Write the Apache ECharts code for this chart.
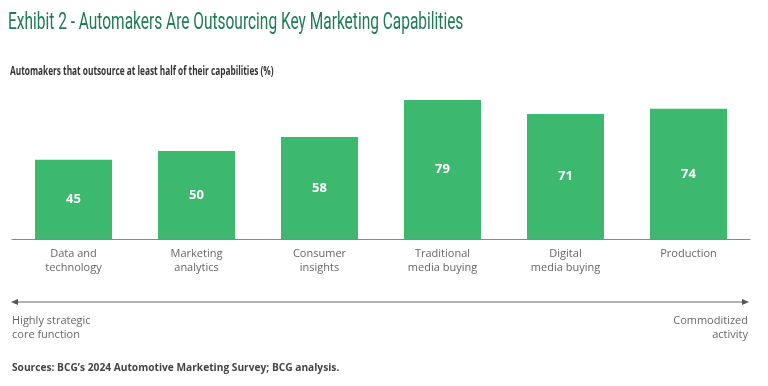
<!DOCTYPE html>
<html><head><meta charset="utf-8">
<script src="https://cdn.jsdelivr.net/npm/echarts@6/dist/echarts.min.js"></script>
<style>html,body{margin:0;padding:0;background:#fff}#c{width:768px;height:386px}</style>
</head><body><div id="c"></div>
<script>
const categories = ["Data and\ntechnology", "Marketing\nanalytics", "Consumer\ninsights", "Traditional\nmedia buying", "Digital\nmedia buying", "Production"];
const values = [45, 50, 58, 79, 71, 74];
const titleText = "Exhibit 2 - Automakers Are Outsourcing Key Marketing Capabilities";
const subtitleText = "Automakers that outsource at least half of their capabilities (%)";
const leftNote = "Highly strategic\ncore function";
const rightNote = "Commoditized\nactivity";
const sourceLabel = "Sources:";
const sourceText = " BCG’s 2024 Automotive Marketing Survey; BCG analysis.";

const chart = echarts.init(document.getElementById('c'), null, {renderer: 'canvas'});
const gray = '#666';
chart.setOption({
  animation: false,
  backgroundColor: '#fff',
  title: [
    {text: '{b|' + sourceLabel + '}{n|' + sourceText + '}', left: 7, top: 358, textStyle: {rich: {
      b: {fontFamily: 'Open Sans', fontWeight: 'bold', fontSize: 10.2, color: '#444'},
      n: {fontFamily: 'Open Sans', fontSize: 10.2, color: '#444'}}}}
  ],
  grid: {left: 12, right: 18, top: 63, height: 176},
  xAxis: {
    type: 'category', data: categories,
    axisLine: {lineStyle: {color: '#888', width: 1}},
    axisTick: {show: false},
    axisLabel: {interval: 0, color: '#666', fontFamily: 'Open Sans', fontSize: 11, lineHeight: 14, margin: 8}
  },
  yAxis: {type: 'value', min: 0, max: 100, show: false, splitLine: {show: false}},
  series: [{
    type: 'bar', data: values, barWidth: 77,
    itemStyle: {color: '#3db86f'},
    label: {show: true, position: 'inside', color: '#fff', fontFamily: 'Open Sans', fontWeight: 'bold', fontSize: 13}
  }],
  graphic: [
    {type: 'text', x: 8, y: 11, scaleX: 0.645, style: {text: titleText, fontFamily: 'Roboto', fontSize: 24, fill: '#1e7b55'}},
    {type: 'text', x: 10, y: 66, scaleX: 0.69, style: {text: subtitleText, fontFamily: 'Open Sans', fontWeight: 'bold', fontSize: 12, fill: '#333'}},
    {type: 'line', shape: {x1: 16, y1: 302, x2: 744, y2: 302}, style: {stroke: gray, lineWidth: 1}},
    {type: 'polygon', shape: {points: [[11, 302], [18, 299], [18, 305]]}, style: {fill: '#555'}},
    {type: 'polygon', shape: {points: [[749, 302], [742, 299], [742, 305]]}, style: {fill: '#555'}},
    {type: 'text', x: 12, y: 314, style: {text: leftNote, fontFamily: 'Open Sans', fontSize: 11, lineHeight: 14, fill: '#666'}},
    {type: 'text', x: 748, y: 314, style: {text: rightNote, fontFamily: 'Open Sans', fontSize: 11, lineHeight: 14, fill: '#666', align: 'right'}}
  ]
});
</script></body></html>
